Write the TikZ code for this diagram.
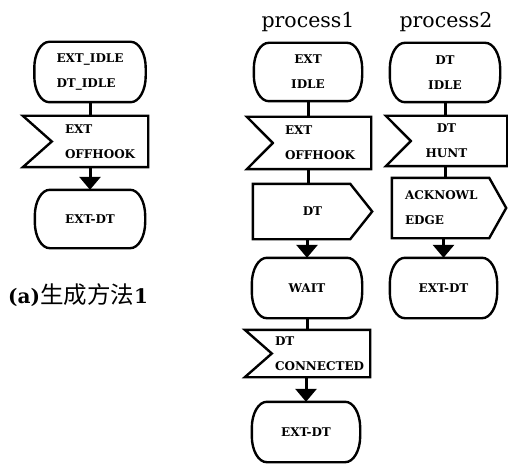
\documentclass[tikz,border=0pt]{standalone}
\usepackage{fontspec}
\setmainfont{DejaVu Serif}
\newfontfamily\cjkfont{Noto Sans CJK SC}
\usetikzlibrary{calc,arrows.meta}

\tikzset{
  outline/.style={line width=2.4pt, line join=miter},
  boxfont/.style={font=\bfseries\fontsize{12}{25}\selectfont},
  shapebox/.style={draw=none, inner sep=0pt, boxfont, align=center},
  statebox/.style={shapebox},
  lbltext/.style={boxfont, align=left, inner sep=0pt, anchor=west},
  title/.style={font=\fontsize{20.5}{24}\selectfont, inner sep=0pt},
  conn/.style={line width=3pt},
  arr/.style={conn, -{Triangle[width=21pt,length=13pt]}},
}

\newcommand\DrawState[1]{%
  \draw[outline] ($(#1.north west)+(15,0)$) -- ($(#1.north east)+(-15,0)$)
    arc[start angle=90, end angle=0, x radius=15pt, y radius=26pt]
    -- ($(#1.south east)+(0,26)$)
    arc[start angle=0, end angle=-90, x radius=15pt, y radius=26pt]
    -- ($(#1.south west)+(15,0)$)
    arc[start angle=270, end angle=180, x radius=15pt, y radius=26pt]
    -- ($(#1.north west)+(0,-26)$)
    arc[start angle=180, end angle=90, x radius=15pt, y radius=26pt] -- cycle;}
\newcommand\DrawInput[2]{%
  \draw[outline] (#1.north west) -- (#1.north east) -- (#1.south east)
    -- (#1.south west) -- ($(#1.west)+(#2,0)$) -- cycle;}
\newcommand\DrawOutput[2]{%
  \draw[outline] (#1.north west) -- ($(#1.north east)+(-#2,0)$) -- (#1.east)
    -- ($(#1.south east)+(-#2,0)$) -- (#1.south west) -- cycle;}

\begin{document}
\begin{tikzpicture}[x=1pt,y=1pt]
\fill[white] (0,0) rectangle (508,-465);
\useasboundingbox (0,0) rectangle (508,-465);

% titles
\node[title] (t1) at (308,-22) {process1};
\node[title] (t2) at (446,-22) {process2};

% (a) left column
\node[statebox, align=left, minimum width=111pt, minimum height=60pt] (sA) at (90,-72) {EXT\_IDLE\\DT\_IDLE};
\node[shapebox, minimum width=125pt, minimum height=51pt,
      label={[lbltext, xshift=42pt]west:{EXT\\OFFHOOK}}] (iA) at (85.5,-141.5) {};
\node[statebox, minimum width=110pt, minimum height=58pt] (sB) at (90,-219) {EXT-DT};

% process1
\node[statebox, minimum width=108pt, minimum height=58pt] (p1s) at (308,-72) {EXT\\IDLE};
\node[shapebox, minimum width=124pt, minimum height=52pt,
      label={[lbltext, xshift=38pt]west:{EXT\\OFFHOOK}}] (p1i) at (309,-143) {};
\node[shapebox, minimum width=119pt, minimum height=55pt] (p1o) at (312.5,-211.5) {DT};
\node[statebox, minimum width=110pt, minimum height=60pt] (p1w) at (307,-288) {WAIT};
\node[shapebox, minimum width=125pt, minimum height=47pt,
      label={[lbltext, xshift=30pt]west:{DT\\CONNECTED}}] (p1c) at (307.5,-353.5) {};
\node[statebox, minimum width=108pt, minimum height=60pt] (p1e) at (306,-432) {EXT-DT};

% process2
\node[statebox, minimum width=110pt, minimum height=59pt] (p2s) at (445,-72.5) {DT\\IDLE};
\node[shapebox, minimum width=121pt, minimum height=50pt] (p2i) at (446.5,-141) {DT\\HUNT};
\node[shapebox, minimum width=114pt, minimum height=60pt,
      label={[lbltext, xshift=13pt]west:{ACKNOWL\\EDGE}}] (p2o) at (449,-208) {};
\node[statebox, minimum width=107pt, minimum height=60pt] (p2e) at (443.5,-288) {EXT-DT};

% outlines
\DrawState{sA} \DrawInput{iA}{29} \DrawState{sB}
\DrawState{p1s} \DrawInput{p1i}{26} \DrawOutput{p1o}{22} \DrawState{p1w}
\DrawInput{p1c}{27} \DrawState{p1e}
\DrawState{p2s} \DrawInput{p2i}{25} \DrawOutput{p2o}{17} \DrawState{p2e}

% connectors
\draw[conn] (sA.south) -- (sA.south |- iA.north);
\draw[arr] (iA.south -| sB.north) -- (sB.north);

\draw[conn] (p1s.south) -- (p1s.south |- p1i.north);
\draw[conn] (p1i.south -| p1s.south) -- (p1s.south |- p1o.north);
\draw[arr] (p1o.south -| p1w.north) -- (p1w.north);
\draw[conn] (p1w.south) -- (p1w.south |- p1c.north);
\draw[arr] (p1c.south -| p1e.north) -- (p1e.north);

\draw[conn] (p2s.south) -- (p2s.south |- p2i.north);
\draw[conn] (p2i.south -| p2s.south) -- (p2s.south |- p2o.north);
\draw[arr] (p2o.south -| p2e.north) -- (p2e.north);

% caption
\node[anchor=west, inner sep=0pt, font=\fontsize{20}{24}\selectfont] (cap) at (8,-295)
  {\textbf{(a)}{\cjkfont\fontsize{23.5}{26}\selectfont 生成方法}\textbf{1}};
\end{tikzpicture}
\end{document}
